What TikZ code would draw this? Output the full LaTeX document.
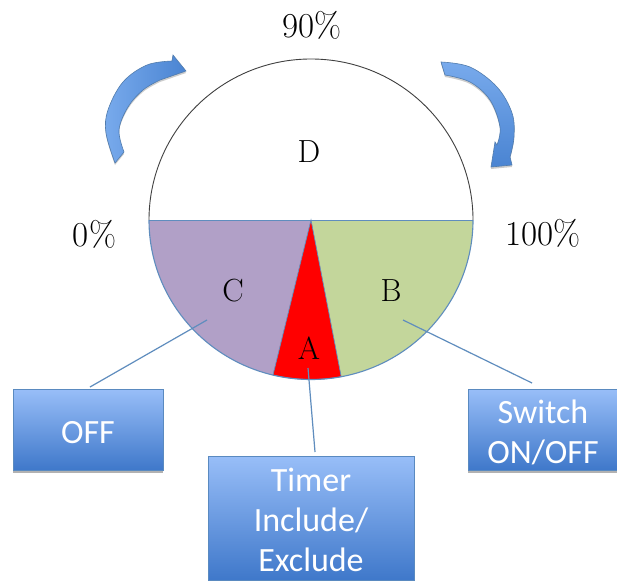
\documentclass[tikz,border=0pt]{standalone}
\usepackage{fontspec}
\newfontfamily\boxfont{Carlito}
\usetikzlibrary{shadows}
\definecolor{edgeblue}{HTML}{5A8AC0}
\definecolor{lineblue}{HTML}{5F8DBE}
\definecolor{boxtop}{HTML}{98BEF8}
\definecolor{boxbot}{HTML}{3F78CA}
\definecolor{arrowlight}{HTML}{8DB8F4}
\definecolor{arrowmid}{HTML}{78AAEC}
\definecolor{arrowdark}{HTML}{4A84D2}
\definecolor{sectorC}{HTML}{B1A0C7}
\definecolor{sectorB}{HTML}{C3D69B}
\newcommand{\toppad}[1]{\rule{0pt}{#1}}
\tikzset{
  bluebox/.style={draw=edgeblue,line width=0.8pt,top color=boxtop,bottom color=boxbot,
    text=white,font=\boxfont\fontsize{34}{40}\selectfont,align=center,inner sep=0pt,
    drop shadow={shadow xshift=0pt,shadow yshift=-2.5pt,fill=black,opacity=.3}},
  pct/.style={font=\fontsize{35}{40}\selectfont,inner sep=0pt},
  letter/.style={font=\fontsize{32}{38}\selectfont,inner sep=0pt},
  leader/.style={draw=lineblue,line width=1.2pt},
  bend arrow/.style={draw=edgeblue!90!black,line width=0.6pt,
    drop shadow={shadow xshift=0pt,shadow yshift=-2pt,fill=black,opacity=.2}}
}
\begin{document}
\begin{tikzpicture}[x=1pt,y=-1pt]
\useasboundingbox (0,0) rectangle (617,580);
\clip (0,0) rectangle (617,580);
\fill[white] (0,0) rectangle (617,580);
% disc
\coordinate (ctr) at (311,220);
\fill[sectorC] (ctr) -- (149,220) arc[start angle=180,end angle=103.6,x radius=162,y radius=159.5] -- cycle;
\fill[sectorB] (ctr) -- (473,220) arc[start angle=0,end angle=79.3,x radius=162,y radius=159.5] -- cycle;
\filldraw[fill=red,draw=lineblue,line width=0.7pt] (ctr) -- (273,375) arc[start angle=103.6,end angle=79.3,x radius=162,y radius=159.5] -- cycle;
\draw[lineblue,line width=1pt] (149,220) -- (473,220);
\draw[lineblue,line width=1.1pt] (149,220) arc[start angle=180,end angle=0,x radius=162,y radius=159.5];
\draw[black!75,line width=0.9pt] (149,220) arc[start angle=180,end angle=0,x radius=162,y radius=-161];
% letters
\node[letter] (lD) at (309,152) {D};
\node[letter] (lC) at (233,291) {C};
\node[letter] (lB) at (391,291) {B};
\node[letter] (lA) at (309,348) {A};
% percentages
\node[pct] (p90) at (312,25) {90\%};
\node[pct] (p0) at (94.5,234) {0\%};
\node[pct] (p100) at (543,233) {100\%};
% boxes
\node[bluebox,minimum width=150pt,minimum height=81pt] (off) at (88,429.5) {\toppad{28pt}OFF};
\node[bluebox,minimum width=206pt,minimum height=124pt] (timer) at (311,518) {\toppad{27pt}Timer\\Include/\\Exclude};
\node[bluebox,minimum width=150pt,minimum height=81pt] (switch) at (543,429.5) {\toppad{30pt}Switch\\ON/OFF};
% connectors
\coordinate (cC) at (207,320);
\coordinate (eC) at (90,387);
\coordinate (cA) at (308,368);
\coordinate (eA) at (315,452);
\coordinate (cB) at (403,320);
\coordinate (eB) at (532,383);
\draw[leader] (cC) -- (eC);
\draw[leader] (cA) -- (eA);
\draw[leader] (cB) -- (eB);
% curved arrows
\path[bend arrow,left color=arrowmid,middle color=arrowlight,right color=arrowdark]
  plot[smooth,tension=.6] coordinates {(124,152) (119,130) (128,107) (143,90) (160,80)}
  -- (186,71) -- (173,55) --
  plot[smooth,tension=.6] coordinates {(172,61) (147,65) (123,82) (108,110) (106,133) (115,163)}
  -- cycle;
\path[bend arrow,top color=arrowmid,middle color=arrowlight,bottom color=arrowdark]
  plot[smooth,tension=.6] coordinates {(441,62) (470,67) (497,87) (512,113) (514,137) (510,157)}
  -- (512,165) -- (491,167) -- (495,142) --
  plot[smooth,tension=.6] coordinates {(497,145) (500,127) (490,100) (470,82) (445,75)}
  -- cycle;
\end{tikzpicture}
\end{document}
